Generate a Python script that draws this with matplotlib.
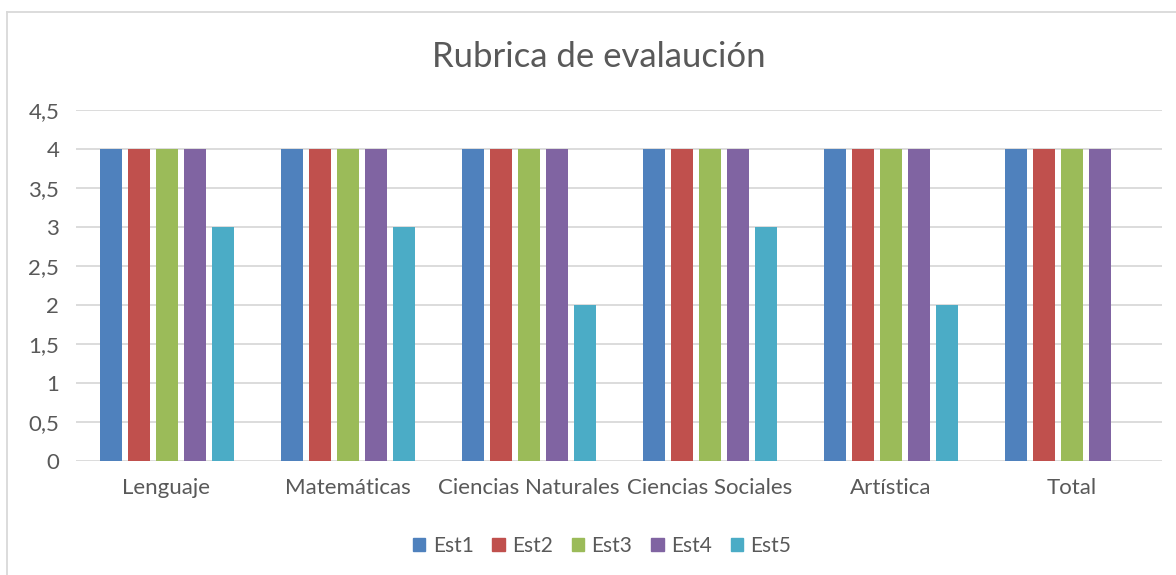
import numpy as np
import matplotlib.pyplot as plt
from matplotlib.lines import Line2D

categories = ['Lenguaje', 'Matemáticas', 'Ciencias Naturales', 'Ciencias Sociales', 'Artística', 'Total']
series_names = ['Est1', 'Est2', 'Est3', 'Est4', 'Est5']
est1 = [4, 4, 4, 4, 4, 4]
est2 = [4, 4, 4, 4, 4, 4]
est3 = [4, 4, 4, 4, 4, 4]
est4 = [4, 4, 4, 4, 4, 4]
est5 = [3, 3, 2, 3, 2, 0]
yticks = [0, 0.5, 1, 1.5, 2, 2.5, 3, 3.5, 4, 4.5]
ytick_labels = ['0', '0,5', '1', '1,5', '2', '2,5', '3', '3,5', '4', '4,5']

colors = ['#4F81BD', '#C0504D', '#9BBB59', '#8064A2', '#4BACC6']
text_color = '#595959'
grid_color = '#D9D9D9'

plt.rcParams['font.family'] = ['Lato', 'DejaVu Sans']

W, H = 1176, 575
fig = plt.figure(figsize=(W / 100, H / 100), dpi=100)
ax = fig.add_axes([76 / W, 1 - 461 / H, (1162 - 76) / W, (461 - 110) / H])

x = np.arange(len(categories))
bar_w = 22 / 181
step = 28 / 181
for i, (vals, name) in enumerate(zip([est1, est2, est3, est4, est5], series_names)):
    ax.bar(x + (i - 2) * step, vals, width=bar_w, color=colors[i], label=name, zorder=3)

ax.set_xlim(-0.5, len(categories) - 0.5)
ax.set_ylim(0, 4.5)
ax.set_yticks(yticks)
ax.set_yticklabels(ytick_labels)
ax.set_xticks(x)
ax.set_xticklabels(categories)
ax.tick_params(length=0, colors=text_color, labelsize=16)
ax.tick_params(axis='x', pad=12)
ax.tick_params(axis='y', pad=12)
ax.grid(axis='y', color=grid_color, linewidth=1.3, zorder=0)
for s in ax.spines.values():
    s.set_visible(False)

fig.text(599 / W, 1 - 57 / H, 'Rubrica de evalaución', ha='center', va='center',
         fontsize=25, color=text_color)

handles = [plt.Rectangle((0, 0), 1, 1, color=c) for c in colors]
fig.legend(handles, series_names, loc='center', bbox_to_anchor=(602 / W, 1 - 546 / H),
           ncol=5, frameon=False, fontsize=15, handlelength=0.6, handleheight=0.6,
           columnspacing=0.9, handletextpad=0.35, labelcolor=text_color)

# chart border
fig.add_artist(Line2D([7 / W, 1], [1 - 12 / H, 1 - 12 / H], color=grid_color, linewidth=1.3))
fig.add_artist(Line2D([7 / W, 7 / W], [0, 1 - 12 / H], color=grid_color, linewidth=1.3))

fig.savefig('out.png', dpi=100)
